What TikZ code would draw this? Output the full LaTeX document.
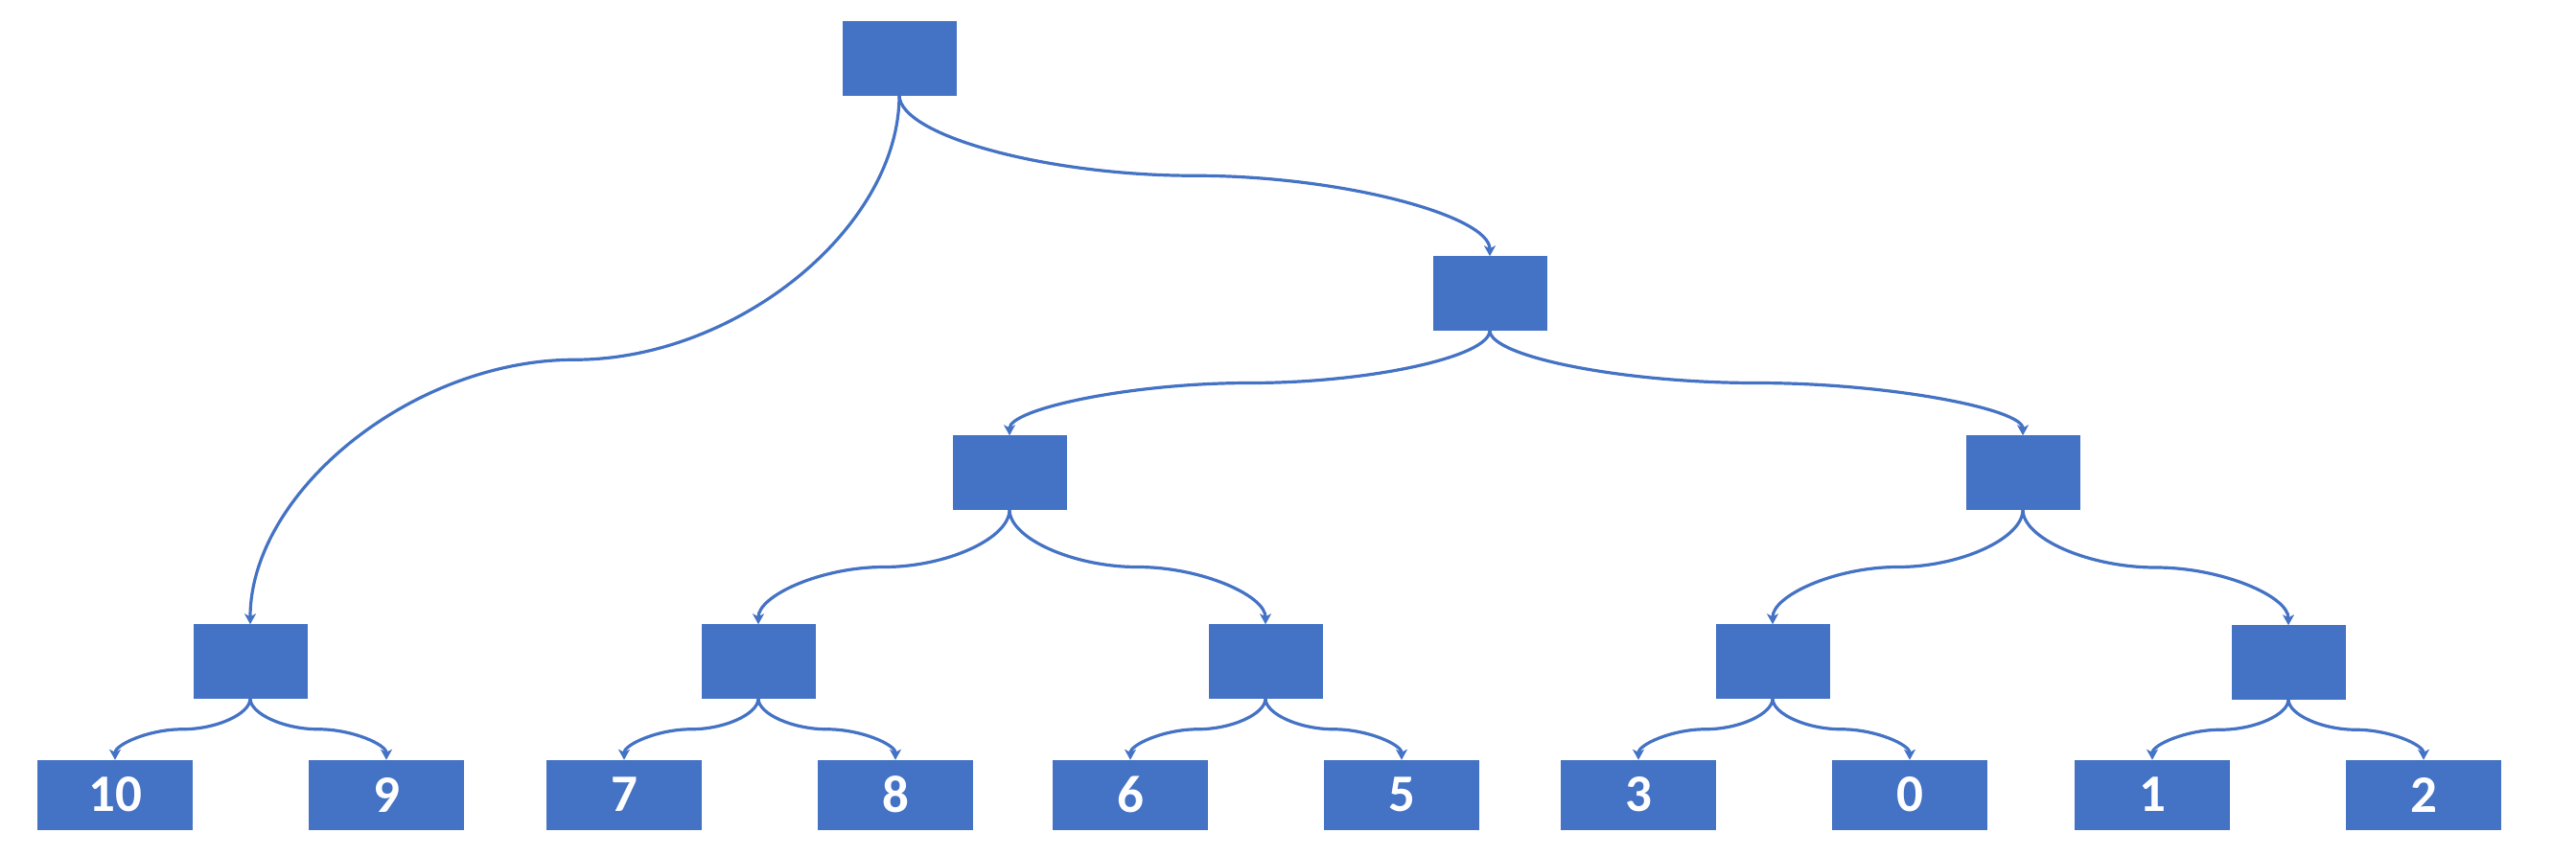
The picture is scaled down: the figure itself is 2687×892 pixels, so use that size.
\documentclass[tikz,border=0pt]{standalone}
\usepackage{fontspec}
\setmainfont{Carlito}
\usetikzlibrary{arrows.meta,calc}
\definecolor{obox}{HTML}{4472C4}
\begin{document}
\begin{tikzpicture}[x=1pt,y=-1pt,
  box/.style={rectangle,fill=obox,draw=obox,line width=0.5pt,minimum width=118pt,minimum height=77pt,inner sep=0pt},
  leaf/.style={box,minimum width=161pt,minimum height=72pt,text=white,font=\fontsize{55}{60}\selectfont\bfseries},
  conn/.style={draw=obox,line width=3.2pt,-{Stealth[length=11pt,width=12pt,inset=3pt]},
    to path={let \p1=(\tikztostart), \p2=(\tikztotarget) in
      .. controls (\x1,{0.75*\y1+0.25*\y2}) and ({0.75*\x1+0.25*\x2},{0.5*\y1+0.5*\y2})
      .. ({0.5*\x1+0.5*\x2},{0.5*\y1+0.5*\y2})
      .. controls ({0.25*\x1+0.75*\x2},{0.5*\y1+0.5*\y2}) and (\x2,{0.25*\y1+0.75*\y2})
      .. (\tikztotarget) \tikztonodes}}
]
\useasboundingbox (0,0) rectangle (2687,892);
\node[box] (r) at (938,60.5) {};
\node[box] (a) at (1554,306) {};
\node[box] (b) at (1053,493) {};
\node[box] (c) at (2110,493) {};
\node[box] (d1) at (261,690) {};
\node[box] (d2) at (791,690) {};
\node[box] (d3) at (1320,690) {};
\node[box] (d4) at (1849,690) {};
\node[box] (d5) at (2387,691) {};
\node[leaf] (l1) at (120,829) {10};
\node[leaf] (l2) at (403,829) {9};
\node[leaf] (l3) at (651,829) {7};
\node[leaf] (l4) at (934,829) {8};
\node[leaf] (l5) at (1179,829) {6};
\node[leaf] (l6) at (1462,829) {5};
\node[leaf] (l7) at (1709,829) {3};
\node[leaf] (l8) at (1992,829) {0};
\node[leaf] (l9) at (2245,829) {1};
\node[leaf] (l10) at (2528,829) {2};
\draw[conn] (r.south) to (a.north);
\draw[conn] (r.south) to (d1.north);
\draw[conn] (a.south) to (b.north);
\draw[conn] (a.south) to (c.north);
\draw[conn] (b.south) to (d2.north);
\draw[conn] (b.south) to (d3.north);
\draw[conn] (c.south) to (d4.north);
\draw[conn] (c.south) to (d5.north);
\draw[conn] (d1.south) to (l1.north);
\draw[conn] (d1.south) to (l2.north);
\draw[conn] (d2.south) to (l3.north);
\draw[conn] (d2.south) to (l4.north);
\draw[conn] (d3.south) to (l5.north);
\draw[conn] (d3.south) to (l6.north);
\draw[conn] (d4.south) to (l7.north);
\draw[conn] (d4.south) to (l8.north);
\draw[conn] (d5.south) to (l9.north);
\draw[conn] (d5.south) to (l10.north);
\end{tikzpicture}
\end{document}
